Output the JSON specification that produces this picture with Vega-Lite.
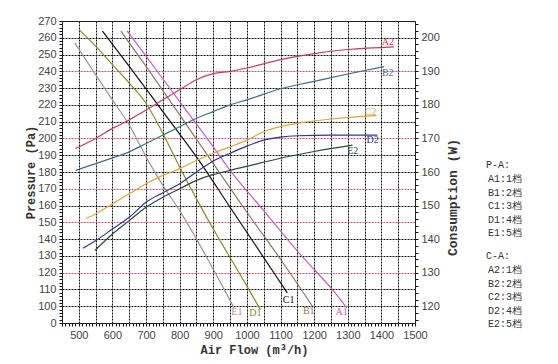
{
  "$schema": "https://vega.github.io/schema/vega-lite/v6.json",
  "width": 353,
  "height": 302,
  "autosize": "none",
  "padding": {"left": 62, "top": 21, "right": 143, "bottom": 41},
  "background": "white",
  "config": {
    "view": {"stroke": "#222", "strokeWidth": 1},
    "axis": {
      "domainColor": "#222",
      "tickColor": "#111",
      "tickWidth": 1,
      "labelColor": "#444",
      "labelFont": "Liberation Sans",
      "labelFontSize": 11,
      "titleFont": "Liberation Mono",
      "titleFontWeight": "bold",
      "titleColor": "#333",
      "titleAlign": "center",
      "titleBaseline": "middle",
      "labelOverlap": false,
      "labelFlush": false,
      "tickCount": 500,
      "format": "d"
    }
  },
  "datasets": {
    "pressure": [
      {"name": "A1", "q": 644, "p": 264}, {"name": "A1", "q": 700, "p": 249}, {"name": "A1", "q": 800, "p": 222}, {"name": "A1", "q": 900, "p": 195}, {"name": "A1", "q": 950, "p": 181}, {"name": "A1", "q": 1050, "p": 157}, {"name": "A1", "q": 1154, "p": 132}, {"name": "A1", "q": 1204, "p": 121}, {"name": "A1", "q": 1254, "p": 110}, {"name": "A1", "q": 1297, "p": 99},
      {"name": "B1", "q": 625, "p": 264}, {"name": "B1", "q": 700, "p": 243}, {"name": "B1", "q": 800, "p": 214}, {"name": "B1", "q": 900, "p": 185}, {"name": "B1", "q": 1000, "p": 156}, {"name": "B1", "q": 1100, "p": 128}, {"name": "B1", "q": 1195, "p": 100},
      {"name": "C1", "q": 570, "p": 264}, {"name": "C1", "q": 650, "p": 243}, {"name": "C1", "q": 750, "p": 216}, {"name": "C1", "q": 850, "p": 189}, {"name": "C1", "q": 950, "p": 159}, {"name": "C1", "q": 1050, "p": 129}, {"name": "C1", "q": 1120, "p": 108},
      {"name": "D1", "q": 500, "p": 265}, {"name": "D1", "q": 550, "p": 255}, {"name": "D1", "q": 600, "p": 244}, {"name": "D1", "q": 650, "p": 233}, {"name": "D1", "q": 700, "p": 221}, {"name": "D1", "q": 750, "p": 203}, {"name": "D1", "q": 800, "p": 183}, {"name": "D1", "q": 850, "p": 164}, {"name": "D1", "q": 900, "p": 146}, {"name": "D1", "q": 950, "p": 129}, {"name": "D1", "q": 1000, "p": 112}, {"name": "D1", "q": 1040, "p": 98},
      {"name": "E1", "q": 488, "p": 257}, {"name": "E1", "q": 540, "p": 241}, {"name": "E1", "q": 600, "p": 223}, {"name": "E1", "q": 650, "p": 208}, {"name": "E1", "q": 700, "p": 189}, {"name": "E1", "q": 750, "p": 172}, {"name": "E1", "q": 800, "p": 157}, {"name": "E1", "q": 850, "p": 140}, {"name": "E1", "q": 900, "p": 122}, {"name": "E1", "q": 962, "p": 99}
    ],
    "plabels": [
      {"name": "A1", "q": 1282, "p": 96.6},
      {"name": "B1", "q": 1184, "p": 97},
      {"name": "C1", "q": 1124, "p": 103.7},
      {"name": "D1", "q": 1025, "p": 96},
      {"name": "E1", "q": 970, "p": 96.6}
    ],
    "consumption": [
      {"name": "A2", "q": 490, "w": 167}, {"name": "A2", "q": 550, "w": 170}, {"name": "A2", "q": 600, "w": 173}, {"name": "A2", "q": 650, "w": 175.5}, {"name": "A2", "q": 700, "w": 178.5}, {"name": "A2", "q": 750, "w": 181.5}, {"name": "A2", "q": 800, "w": 184.5}, {"name": "A2", "q": 850, "w": 187.5}, {"name": "A2", "q": 900, "w": 189.3}, {"name": "A2", "q": 950, "w": 190}, {"name": "A2", "q": 1000, "w": 191}, {"name": "A2", "q": 1100, "w": 193.5}, {"name": "A2", "q": 1200, "w": 195.3}, {"name": "A2", "q": 1300, "w": 196.5}, {"name": "A2", "q": 1437, "w": 197.3},
      {"name": "B2", "q": 491, "w": 160.5}, {"name": "B2", "q": 550, "w": 162.5}, {"name": "B2", "q": 600, "w": 164.2}, {"name": "B2", "q": 650, "w": 166}, {"name": "B2", "q": 700, "w": 168.5}, {"name": "B2", "q": 750, "w": 171}, {"name": "B2", "q": 800, "w": 173.5}, {"name": "B2", "q": 850, "w": 176}, {"name": "B2", "q": 900, "w": 178}, {"name": "B2", "q": 950, "w": 180}, {"name": "B2", "q": 1000, "w": 181.5}, {"name": "B2", "q": 1100, "w": 184.8}, {"name": "B2", "q": 1200, "w": 187}, {"name": "B2", "q": 1300, "w": 189.2}, {"name": "B2", "q": 1408, "w": 191.4},
      {"name": "C2", "q": 522, "w": 146.2}, {"name": "C2", "q": 550, "w": 147.5}, {"name": "C2", "q": 600, "w": 150.5}, {"name": "C2", "q": 650, "w": 153.5}, {"name": "C2", "q": 700, "w": 156.5}, {"name": "C2", "q": 750, "w": 159}, {"name": "C2", "q": 800, "w": 161}, {"name": "C2", "q": 850, "w": 163.5}, {"name": "C2", "q": 900, "w": 165.6}, {"name": "C2", "q": 950, "w": 167.5}, {"name": "C2", "q": 1000, "w": 169.5}, {"name": "C2", "q": 1050, "w": 172}, {"name": "C2", "q": 1100, "w": 173.5}, {"name": "C2", "q": 1150, "w": 174.5}, {"name": "C2", "q": 1250, "w": 175.8}, {"name": "C2", "q": 1385, "w": 176.8},
      {"name": "D2", "q": 513, "w": 137.3}, {"name": "D2", "q": 553, "w": 139.7}, {"name": "D2", "q": 600, "w": 143}, {"name": "D2", "q": 650, "w": 146.5}, {"name": "D2", "q": 700, "w": 151}, {"name": "D2", "q": 750, "w": 153.8}, {"name": "D2", "q": 800, "w": 156.5}, {"name": "D2", "q": 850, "w": 160}, {"name": "D2", "q": 900, "w": 163.3}, {"name": "D2", "q": 950, "w": 165.6}, {"name": "D2", "q": 1000, "w": 167.7}, {"name": "D2", "q": 1050, "w": 169.5}, {"name": "D2", "q": 1100, "w": 170.4}, {"name": "D2", "q": 1150, "w": 170.8}, {"name": "D2", "q": 1250, "w": 171}, {"name": "D2", "q": 1388, "w": 171},
      {"name": "E2", "q": 548, "w": 136.6}, {"name": "E2", "q": 600, "w": 141.5}, {"name": "E2", "q": 650, "w": 145.5}, {"name": "E2", "q": 700, "w": 149.5}, {"name": "E2", "q": 750, "w": 152.5}, {"name": "E2", "q": 800, "w": 155}, {"name": "E2", "q": 850, "w": 157.5}, {"name": "E2", "q": 900, "w": 159.2}, {"name": "E2", "q": 950, "w": 160.5}, {"name": "E2", "q": 1000, "w": 161.7}, {"name": "E2", "q": 1100, "w": 164.1}, {"name": "E2", "q": 1200, "w": 166.1}, {"name": "E2", "q": 1314, "w": 168}
    ],
    "clabels": [
      {"name": "A2", "q": 1419, "w": 198.6},
      {"name": "B2", "q": 1419, "w": 189.5},
      {"name": "C2", "q": 1368, "w": 178},
      {"name": "D2", "q": 1374, "w": 169.5},
      {"name": "E2", "q": 1315, "w": 166.4}
    ]
  },
  "layer": [
    {
      "layer": [
        {
          "data": {"name": "pressure"},
          "mark": {"type": "line", "interpolate": "monotone", "strokeWidth": 1.2},
          "encoding": {
            "x": {
              "field": "q", "type": "quantitative",
              "scale": {"domain": [450, 1500], "nice": false, "zero": false},
              "axis": {
                "title": "Air Flow (m³/h)",
                "titleFontSize": 12,
                "titleX": 192, "titleY": 26,
                "values": [450,460,470,480,490,500,510,520,530,540,550,560,570,580,590,600,610,620,630,640,650,660,670,680,690,700,710,720,730,740,750,760,770,780,790,800,810,820,830,840,850,860,870,880,890,900,910,920,930,940,950,960,970,980,990,1000,1010,1020,1030,1040,1050,1060,1070,1080,1090,1100,1110,1120,1130,1140,1150,1160,1170,1180,1190,1200,1210,1220,1230,1240,1250,1260,1270,1280,1290,1300,1310,1320,1330,1340,1350,1360,1370,1380,1390,1400,1410,1420,1430,1440,1450,1460,1470,1480,1490,1500],
                "labelExpr": "datum.value % 100 === 0 ? datum.label : ''",
                "tickSize": 3,
                "labelPadding": 3,
                "grid": true,
                "gridDash": [2, 1],
                "gridWidth": 1,
                "gridColor": "#111",
                "gridOpacity": {"condition": {"test": "datum.value % 50 === 0 && datum.value > 450 && datum.value < 1500", "value": 1}, "value": 0}
              }
            },
            "y": {
              "field": "p", "type": "quantitative",
              "scale": {"domain": [90, 270], "nice": false, "zero": false},
              "axis": {
                "title": "Pressure (Pa)",
                "titleFontSize": 12,
                "titleAngle": 270,
                "titleX": -32, "titleY": 151,
                "values": [90,92,94,96,98,100,102,104,106,108,110,112,114,116,118,120,122,124,126,128,130,132,134,136,138,140,142,144,146,148,150,152,154,156,158,160,162,164,166,168,170,172,174,176,178,180,182,184,186,188,190,192,194,196,198,200,202,204,206,208,210,212,214,216,218,220,222,224,226,228,230,232,234,236,238,240,242,244,246,248,250,252,254,256,258,260,262,264,266,268,270],
                "labelExpr": "datum.value === 90 ? '0' : (datum.value % 10 === 0 ? datum.label : '')",
                "tickSize": 3,
                "labelPadding": 3,
                "grid": true,
                "gridDash": [2, 1],
                "gridWidth": 1,
                "gridColor": {"condition": {"test": "indexof([240,200,170,150,120], datum.value) >= 0", "value": "#d0506a"}, "value": "#111"},
                "gridOpacity": {"condition": {"test": "datum.value % 10 === 0 && datum.value > 90 && datum.value < 270", "value": 1}, "value": 0}
              }
            },
            "color": {
              "field": "name", "type": "nominal",
              "scale": {"domain": ["A1", "B1", "C1", "D1", "E1"], "range": ["#c85ac8", "#957266", "#111111", "#8a8a2a", "#a89090"]},
              "legend": {
                "orient": "none", "legendX": 424, "legendY": 139,
                "title": "P-A:",
                "titleFont": "Liberation Mono", "titleFontSize": 10, "titleFontWeight": "normal", "titleColor": "#333", "titlePadding": 4,
                "labelFont": "Liberation Mono", "labelFontSize": 10, "labelColor": "#333", "labelOffset": -8,
                "symbolOpacity": 0, "symbolSize": 0, "symbolStrokeWidth": 0,
                "rowPadding": 3.5,
                "labelExpr": "datum.label + ':' + (indexof(['A','B','C','D','E'], substring(datum.label, 0, 1)) + 1) + '档'"
              }
            }
          }
        },
        {
          "data": {"name": "plabels"},
          "mark": {"type": "text", "font": "Liberation Serif", "fontSize": 10},
          "encoding": {
            "x": {"field": "q", "type": "quantitative"},
            "y": {"field": "p", "type": "quantitative"},
            "text": {"field": "name", "type": "nominal"},
            "color": {"field": "name", "type": "nominal"}
          }
        }
      ]
    },
    {
      "layer": [
        {
          "data": {"name": "consumption"},
          "mark": {"type": "line", "interpolate": "monotone", "strokeWidth": 1.2},
          "encoding": {
            "x": {"field": "q", "type": "quantitative"},
            "y": {
              "field": "w", "type": "quantitative",
              "scale": {"domain": [115, 205], "nice": false, "zero": false},
              "axis": {
                "orient": "right",
                "title": "Consumption (W)",
                "titleFontSize": 13,
                "titleAngle": 270,
                "titleX": 37, "titleY": 176,
                "values": [116,118,120,122,124,126,128,130,132,134,136,138,140,142,144,146,148,150,152,154,156,158,160,162,164,166,168,170,172,174,176,178,180,182,184,186,188,190,192,194,196,198,200,202,204],
                "labelExpr": "datum.value % 10 === 0 ? datum.label : ''",
                "tickSize": 3,
                "labelPadding": 3,
                "grid": false
              }
            },
            "color": {
              "field": "name", "type": "nominal",
              "scale": {"domain": ["A2", "B2", "C2", "D2", "E2"], "range": ["#cc3a5a", "#3d6f86", "#e0a535", "#33339a", "#2e4a36"]},
              "legend": {
                "orient": "none", "legendX": 424, "legendY": 230,
                "title": "C-A:",
                "titleFont": "Liberation Mono", "titleFontSize": 10, "titleFontWeight": "normal", "titleColor": "#333", "titlePadding": 4,
                "labelFont": "Liberation Mono", "labelFontSize": 10, "labelColor": "#333", "labelOffset": -8,
                "symbolOpacity": 0, "symbolSize": 0, "symbolStrokeWidth": 0,
                "rowPadding": 3.5,
                "labelExpr": "datum.label + ':' + (indexof(['A','B','C','D','E'], substring(datum.label, 0, 1)) + 1) + '档'"
              }
            }
          }
        },
        {
          "data": {"name": "clabels"},
          "mark": {"type": "text", "font": "Liberation Serif", "fontSize": 10},
          "encoding": {
            "x": {"field": "q", "type": "quantitative"},
            "y": {"field": "w", "type": "quantitative"},
            "text": {"field": "name", "type": "nominal"},
            "color": {"field": "name", "type": "nominal"}
          }
        }
      ]
    }
  ],
  "resolve": {"scale": {"y": "independent", "color": "independent"}}
}
